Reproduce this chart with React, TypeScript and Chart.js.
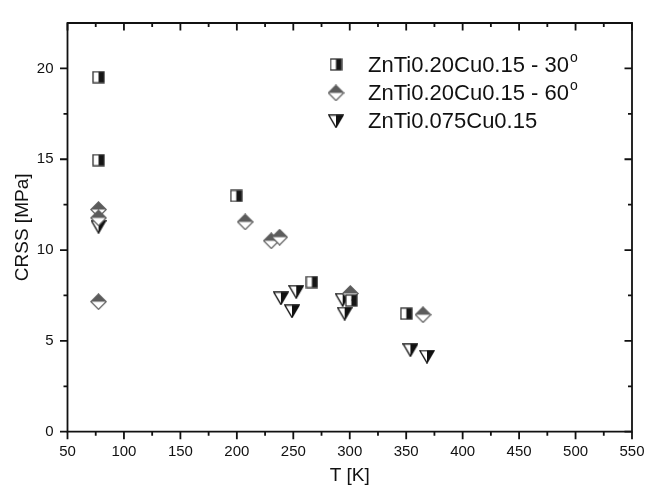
import { useEffect, useRef } from "react";
import { Chart, registerables } from "chart.js";

Chart.register(...registerables);

const FONT = '"Liberation Sans", Arial, Helvetica, sans-serif';
const INK = "#111111";

// ---- data ----
const seriesLabels = ["ZnTi0.20Cu0.15 - 30°", "ZnTi0.20Cu0.15 - 60°", "ZnTi0.075Cu0.15"];

const t30 = [77.5, 77.5, 199.5, 266.5, 301.4, 350.1];
const crss30 = [19.52, 14.95, 12.98, 8.24, 7.22, 6.5];

const t60 = [77.5, 77.5, 77.5, 207.4, 230.5, 237.9, 300.5, 364.9];
const crss60 = [12.23, 11.77, 7.16, 11.55, 10.51, 10.71, 7.61, 6.44];

const t075 = [77.5, 239.0, 252.6, 248.8, 293.7, 295.5, 353.7, 368.4];
const crss075 = [11.28, 7.34, 7.7, 6.63, 7.26, 6.5, 4.49, 4.13];

const xMajorTicks = [50, 100, 150, 200, 250, 300, 350, 400, 450, 500, 550];
const xMinorTicks = [75, 125, 175, 225, 275, 325, 375, 425, 475, 525];
const yMajorTicks = [0, 5, 10, 15, 20];
const yMinorTicks = [2.5, 7.5, 12.5, 17.5];

const xTitle = "T [K]";
const yTitle = "CRSS [MPa]";

// ---- marker images ----
function makeCanvas(w: number, h: number, draw: (ctx: CanvasRenderingContext2D) => void) {
  const c = document.createElement("canvas");
  c.width = w;
  c.height = h;
  const ctx = c.getContext("2d")!;
  draw(ctx);
  return c;
}

function squareMarker() {
  return makeCanvas(13, 13, (ctx) => {
    ctx.fillStyle = "#ffffff";
    ctx.fillRect(1, 1, 5.5, 11);
    ctx.fillStyle = "#151515";
    ctx.fillRect(6.5, 1, 5.5, 11);
    ctx.strokeStyle = "#333333";
    ctx.lineWidth = 1.3;
    ctx.strokeRect(1, 1, 11, 11);
  });
}

function diamondMarker() {
  return makeCanvas(17, 17, (ctx) => {
    ctx.beginPath();
    ctx.moveTo(8.5, 0.8);
    ctx.lineTo(16.2, 8.5);
    ctx.lineTo(8.5, 16.2);
    ctx.lineTo(0.8, 8.5);
    ctx.closePath();
    ctx.fillStyle = "#ffffff";
    ctx.fill();
    ctx.beginPath();
    ctx.moveTo(8.5, 0.8);
    ctx.lineTo(16.2, 8.5);
    ctx.lineTo(0.8, 8.5);
    ctx.closePath();
    ctx.fillStyle = "#5c5c5c";
    ctx.fill();
    ctx.beginPath();
    ctx.moveTo(8.5, 0.8);
    ctx.lineTo(16.2, 8.5);
    ctx.lineTo(8.5, 16.2);
    ctx.lineTo(0.8, 8.5);
    ctx.closePath();
    ctx.strokeStyle = "#5c5c5c";
    ctx.lineWidth = 1.2;
    ctx.stroke();
  });
}

function triangleMarker() {
  return makeCanvas(16, 14, (ctx) => {
    ctx.beginPath();
    ctx.moveTo(0.8, 0.8);
    ctx.lineTo(15.2, 0.8);
    ctx.lineTo(8, 13.2);
    ctx.closePath();
    ctx.fillStyle = "#ffffff";
    ctx.fill();
    ctx.beginPath();
    ctx.moveTo(8, 0.8);
    ctx.lineTo(15.2, 0.8);
    ctx.lineTo(8, 13.2);
    ctx.closePath();
    ctx.fillStyle = "#111111";
    ctx.fill();
    ctx.beginPath();
    ctx.moveTo(0.8, 0.8);
    ctx.lineTo(15.2, 0.8);
    ctx.lineTo(8, 13.2);
    ctx.closePath();
    ctx.strokeStyle = "#111111";
    ctx.lineWidth = 1.3;
    ctx.stroke();
  });
}

// ---- plugins ----
const framePlugin = {
  id: "frameTicks",
  afterDraw(chart: any) {
    const ctx: CanvasRenderingContext2D = chart.ctx;
    const xs = chart.scales.x;
    const ys = chart.scales.y;
    const L = xs.getPixelForValue(xs.min);
    const R = xs.getPixelForValue(xs.max);
    const B = ys.getPixelForValue(ys.min);
    const T = ys.getPixelForValue(ys.max);
    ctx.save();
    ctx.strokeStyle = INK;
    ctx.lineWidth = 1.8;
    ctx.lineCap = "square";
    ctx.beginPath();
    ctx.rect(L, T, R - L, B - T);
    ctx.stroke();
    ctx.lineCap = "butt";
    const major = 7.5;
    const minor = 4;
    ctx.beginPath();
    const xt = (v: number, len: number) => {
      const p = xs.getPixelForValue(v);
      ctx.moveTo(p, B);
      ctx.lineTo(p, B + len);
      ctx.moveTo(p, T);
      ctx.lineTo(p, T + len);
    };
    const yt = (v: number, len: number) => {
      const p = ys.getPixelForValue(v);
      ctx.moveTo(L, p);
      ctx.lineTo(L - len, p);
      ctx.moveTo(R, p);
      ctx.lineTo(R - len, p);
    };
    xMajorTicks.forEach((v) => xt(v, major));
    xMinorTicks.forEach((v) => xt(v, minor));
    yMajorTicks.forEach((v) => yt(v, major));
    yMinorTicks.forEach((v) => yt(v, minor));
    ctx.stroke();
    ctx.restore();
  },
};

const insideLegendPlugin = {
  id: "insideLegend",
  afterDraw(chart: any, _args: any, opts: any) {
    const ctx: CanvasRenderingContext2D = chart.ctx;
    ctx.save();
    chart.data.datasets.forEach((ds: any, i: number) => {
      const base = opts.baseline + i * opts.rowGap;
      const img = ds.pointStyle as HTMLCanvasElement;
      ctx.drawImage(img, opts.markerX - img.width / 2, base + opts.markerDy - img.height / 2);
      ctx.fillStyle = INK;
      ctx.textBaseline = "alphabetic";
      ctx.textAlign = "left";
      ctx.font = `${opts.fontSize}px ${FONT}`;
      let label: string = ds.label;
      let sup = false;
      if (label.endsWith("°")) {
        label = label.slice(0, -1);
        sup = true;
      }
      ctx.fillText(label, opts.textX, base);
      if (sup) {
        const w = ctx.measureText(label).width;
        ctx.font = `${opts.supSize}px ${FONT}`;
        ctx.fillText("o", opts.textX + w + 1, base - opts.supRaise);
      }
    });
    ctx.restore();
  },
};

export default function App() {
  const ref = useRef<HTMLCanvasElement | null>(null);

  useEffect(() => {
    if (!ref.current) return;
    const toPts = (xs: number[], ys: number[]) => xs.map((x, i) => ({ x, y: ys[i] }));
    const chart = new Chart(ref.current, {
      type: "scatter",
      data: {
        datasets: [
          { label: seriesLabels[0], data: toPts(t30, crss30), pointStyle: squareMarker() as any, pointRadius: 7 },
          { label: seriesLabels[1], data: toPts(t60, crss60), pointStyle: diamondMarker() as any, pointRadius: 8 },
          { label: seriesLabels[2], data: toPts(t075, crss075), pointStyle: triangleMarker() as any, pointRadius: 8 },
        ],
      },
      options: {
        responsive: false,
        animation: false,
        layout: { padding: { top: 12.3, right: 26, left: 0, bottom: 0 } },
        plugins: {
          legend: { display: false },
          tooltip: { enabled: false },
          insideLegend: {
            markerX: 336,
            textX: 368,
            baseline: 71.5,
            rowGap: 28.4,
            markerDy: -7,
            fontSize: 22,
            supSize: 14,
            supRaise: 10,
          },
        } as any,
        scales: {
          x: {
            type: "linear",
            min: 50,
            max: 550,
            grid: { display: false, drawTicks: false },
            border: { display: false },
            afterBuildTicks: (s: any) => {
              s.ticks = xMajorTicks.map((v) => ({ value: v }));
            },
            afterFit: (s: any) => {
              s.height = 61.3;
            },
            ticks: {
              font: { family: FONT, size: 15 },
              color: INK,
              padding: 11,
              maxRotation: 0,
              autoSkip: false,
            },
            title: {
              display: true,
              text: xTitle,
              font: { family: FONT, size: 19 },
              color: INK,
              padding: { top: 0, bottom: 5.5 },
            },
          },
          y: {
            type: "linear",
            min: 0,
            max: 22.5,
            grid: { display: false, drawTicks: false },
            border: { display: false },
            afterBuildTicks: (s: any) => {
              s.ticks = yMajorTicks.map((v) => ({ value: v }));
            },
            afterFit: (s: any) => {
              s.width = 67.5;
            },
            ticks: {
              font: { family: FONT, size: 15 },
              color: INK,
              padding: 14,
            },
            title: {
              display: true,
              text: yTitle,
              font: { family: FONT, size: 19 },
              color: INK,
              padding: { top: 11, bottom: 0 },
            },
          },
        },
      },
      plugins: [framePlugin, insideLegendPlugin],
    });
    return () => chart.destroy();
  }, []);

  return (
    <div style={{ position: "absolute", left: 0, top: 0, width: 658, height: 493, background: "#fff" }}>
      <canvas ref={ref} width={658} height={493} style={{ display: "block" }} />
    </div>
  );
}
